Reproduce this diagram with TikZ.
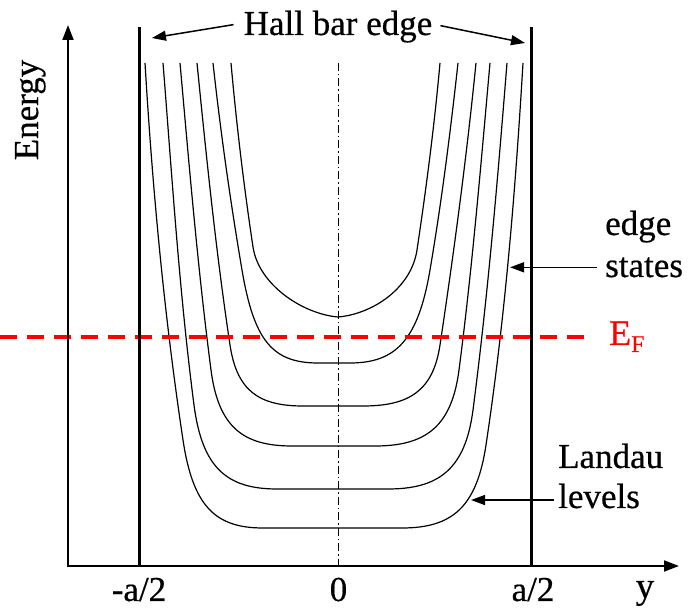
\documentclass[tikz,border=0pt]{standalone}
\usepackage{fontspec}
\setmainfont{Liberation Serif}[FakeBold=0.5]
\usetikzlibrary{arrows.meta}
\begin{document}
\begin{tikzpicture}[x=1pt,y=-1pt,
  lvl/.style={line width=1.2pt,black,line join=round},
  wall/.style={line width=3pt,black},
  axisline/.style={line width=1.8pt,black,-{Triangle[length=15pt,width=11pt]}},
  lbl/.style={font=\fontsize{35}{35}\selectfont,inner sep=0pt},
  pointer/.style={line width=1.5pt,black,-{Triangle[length=14pt,width=10pt]}},
  fermi/.style={red,line width=3.5pt,dash pattern=on 17pt off 10pt},
  centre/.style={line width=1pt,black,dash pattern=on 8pt off 3pt on 1.5pt off 3pt}]
\useasboundingbox (0,0) rectangle (689,609);

% Landau levels
\draw[lvl] (231,63) .. controls (236.5,124.3) and (243.8,185.7) .. (253,247)
 .. controls (258.7,285) and (303,314) .. (338,317)
 .. controls (373,314) and (411.3,288) .. (417,250)
 .. controls (426.3,187.7) and (434.4,125.3) .. (440,63);
\draw[lvl] (213,63) .. controls (220.6,132) and (230.3,201) .. (242,270)
 .. controls (253.9,340) and (272,363) .. (318,363)
 -- (350,363)
 .. controls (396,363) and (418.1,340) .. (430,270)
 .. controls (441.7,201) and (450.4,132) .. (458,63);
\draw[lvl] (197,63) .. controls (206.4,157) and (215.9,251) .. (230,345)
 .. controls (236.9,391) and (259,406) .. (303,406)
 -- (363,406)
 .. controls (409,406) and (433.1,391) .. (440,345)
 .. controls (454.1,251) and (466.6,157) .. (476,63);
\draw[lvl] (180,63) .. controls (189.2,165.3) and (197.7,267.7) .. (211,370)
 .. controls (218.4,427) and (243,446) .. (292,446)
 -- (375,446)
 .. controls (425.4,446) and (451.6,427) .. (459,370)
 .. controls (472.3,267.7) and (480.8,165.3) .. (490,63);
\draw[lvl] (163,63) .. controls (172.1,177) and (179.2,291) .. (194,405)
 .. controls (202.2,468) and (227,489) .. (277,489)
 -- (388,489)
 .. controls (439,489) and (465.3,469) .. (473,410)
 .. controls (488,294.3) and (497.7,178.7) .. (507,63);
\draw[lvl] (145,63) .. controls (152.5,188.7) and (164.1,314.3) .. (183,440)
 .. controls (192.9,506) and (215,528) .. (263,528)
 -- (402,528)
 .. controls (452.4,528) and (476.7,507) .. (486,445)
 .. controls (505.1,317.7) and (515.4,190.3) .. (523,63);

% Fermi level
\coordinate (efStart) at (0,337);
\coordinate (efEnd) at (590,337);
\draw[fermi] (efStart) -- (efEnd);
\node[red,anchor=base west,inner sep=0pt,font=\fontsize{36}{36}\selectfont] (ef) at (609,345)
  {E\raisebox{-7pt}{\fontsize{24}{24}\selectfont F}};

% centre line
\coordinate (cTop) at (338,63);
\coordinate (cBot) at (338,566);
\draw[centre] (cTop) -- (cBot);

% walls
\coordinate (wlTop) at (139,27);
\coordinate (wlBot) at (139,566);
\coordinate (wrTop) at (531,27);
\coordinate (wrBot) at (531,566);
\draw[wall] (wlTop) -- (wlBot);
\draw[wall] (wrTop) -- (wrBot);

% axes
\coordinate (origin) at (68,566);
\coordinate (yTip) at (68,25);
\coordinate (xTip) at (679,566);
\draw[axisline] ([yshift=-0.9pt]origin) -- (yTip);
\draw[axisline] ([xshift=-0.9pt]origin) -- (xTip);

% labels
\node[lbl,anchor=base] (hall) at (338,35) {Hall bar edge};
\coordinate (hallL) at (152,38);
\coordinate (hallR) at (525,43);
\draw[pointer] ([xshift=-10pt,yshift=2pt]hall.west) -- (hallL);
\draw[pointer] ([xshift=8pt,yshift=1pt]hall.east) -- (hallR);

\node[lbl,rotate=90,anchor=base] (energy) at (38,110) {Energy};

\node[lbl,anchor=base] (tm) at (139,601) {-a/2};
\node[lbl,anchor=base] (t0) at (338.5,601) {0};
\node[lbl,anchor=base] (tp) at (533,601) {a/2};
\node[lbl,anchor=base,font=\fontsize{37}{37}\selectfont] (ty) at (645,598) {y};

\node[lbl,anchor=base west] (edge) at (605,235) {edge};
\node[lbl,anchor=base west] (states) at (605,277) {states};
\coordinate (esTip) at (510,0);
\draw[pointer] ([xshift=-8pt]states.west) -- (states.west -| esTip);

\node[lbl,anchor=base west] (landau) at (558,468) {Landau};
\node[lbl,anchor=base west] (levels) at (558,508) {levels};
\coordinate (lvTip) at (471,0);
\draw[pointer] ([xshift=-4pt,yshift=-4pt]levels.west) -- ([yshift=-4pt]levels.west -| lvTip);
\end{tikzpicture}
\end{document}
